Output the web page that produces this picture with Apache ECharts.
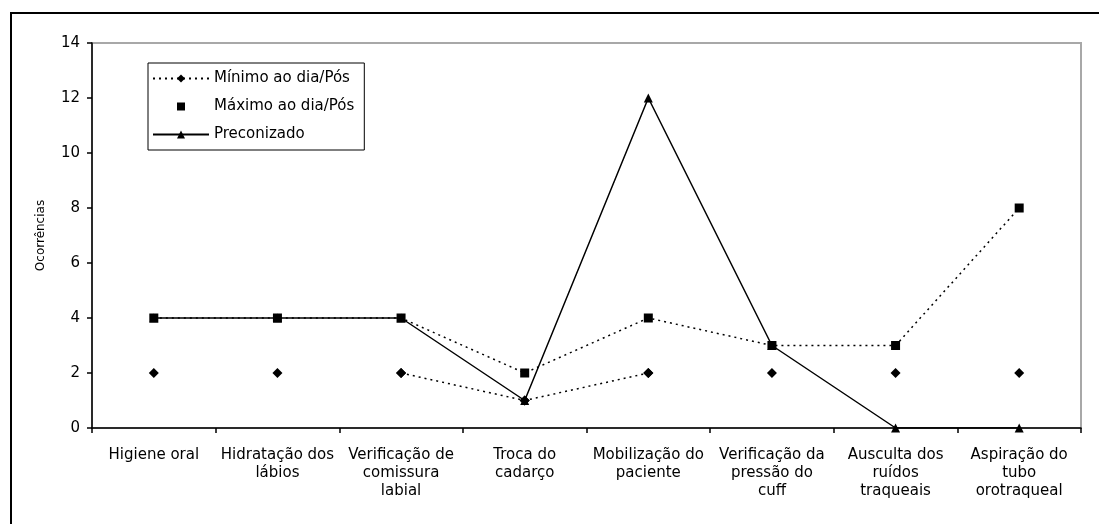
<!DOCTYPE html>
<html>
<head>
<meta charset="utf-8">
<script src="https://cdn.jsdelivr.net/npm/echarts@6/dist/echarts.min.js"></script>
<style>
html,body{margin:0;padding:0;background:#fff;}
#c{width:1099px;height:524px;}
</style>
</head>
<body>
<div id="c"></div>
<script>
var categories = [
  "Higiene oral",
  "Hidratação dos\nlábios",
  "Verificação de\ncomissura\nlabial",
  "Troca do\ncadarço",
  "Mobilização do\npaciente",
  "Verificação da\npressão do\ncuff",
  "Ausculta dos\nruídos\ntraqueais",
  "Aspiração do\ntubo\norotraqueal"
];
var minVals = [2, 2, 2, 1, 2, 2, 2, 2];
var maxVals = [4, 4, 4, 2, 4, 3, 3, 8];
var preconizado = [4, 4, 4, 1, 12, 3, 0, 0];
var yTicks = [0, 2, 4, 6, 8, 10, 12, 14];

// the dotted "Mínimo" line only joins the points from comissura to mobilização
var minLine = minVals.map(function (v, i) { return (i >= 2 && i <= 4) ? v : null; });

var FONT = "DejaVu Sans";
var chart = echarts.init(document.getElementById('c'));
chart.setOption({
  animation: false,
  backgroundColor: '#fff',
  textStyle: { fontFamily: FONT, color: '#000' },
  graphic: [{
    type: 'rect',
    shape: { x: 11, y: 13, width: 1200, height: 600 },
    style: { fill: 'none', stroke: '#000', lineWidth: 2 },
    silent: true
  }],
  grid: {
    left: 92, right: 18, top: 43, bottom: 96,
    show: true, borderColor: '#a8a8a8', borderWidth: 2, backgroundColor: 'transparent'
  },
  legend: {
    orient: 'vertical',
    left: 148, top: 63,
    backgroundColor: '#fff',
    borderColor: '#000', borderWidth: 1,
    padding: [8, 10, 8, 4],
    itemGap: 13,
    itemWidth: 56, itemHeight: 10,
    textStyle: { fontFamily: FONT, fontSize: 15, color: '#000' },
    data: ['Mínimo ao dia/Pós', 'Máximo ao dia/Pós', 'Preconizado']
  },
  xAxis: {
    type: 'category',
    data: categories,
    boundaryGap: true,
    axisLine: { lineStyle: { color: '#000', width: 1.5 } },
    axisTick: { show: true, inside: false, length: 5, lineStyle: { color: '#000', width: 1.5 } },
    axisLabel: {
      interval: 0, margin: 18, fontFamily: FONT, fontSize: 15, lineHeight: 18, color: '#000'
    },
    splitLine: { show: false }
  },
  yAxis: {
    type: 'value',
    min: yTicks[0], max: yTicks[yTicks.length - 1], interval: 2,
    name: 'Ocorrências',
    nameLocation: 'middle',
    nameGap: 45,
    nameRotate: 90,
    nameTextStyle: { fontFamily: FONT, fontSize: 12, color: '#000' },
    axisLine: { show: true, lineStyle: { color: '#000', width: 1.5 } },
    axisTick: { show: true, inside: false, length: 5, lineStyle: { color: '#000', width: 1.5 } },
    axisLabel: { margin: 12, fontFamily: FONT, fontSize: 15, color: '#000' },
    splitLine: { show: false }
  },
  series: [
    {
      name: 'max-line',
      type: 'line',
      data: maxVals,
      symbol: 'none',
      lineStyle: { color: '#000', width: 1.5, type: [2, 4] },
      silent: true, z: 2
    },
    {
      name: 'Mínimo ao dia/Pós',
      type: 'line',
      data: minLine,
      connectNulls: false,
      symbol: 'diamond', symbolSize: 10, showSymbol: true,
      itemStyle: { color: '#000', opacity: 1 },
      lineStyle: { color: '#000', width: 1.5, type: [2, 4] },
      z: 3
    },
    {
      name: 'min-points',
      type: 'scatter',
      data: minVals,
      symbol: 'diamond', symbolSize: 10,
      itemStyle: { color: '#000', opacity: 1 },
      silent: true, z: 4
    },
    {
      name: 'Preconizado',
      type: 'line',
      data: preconizado,
      symbol: 'triangle', symbolSize: 9, showSymbol: true,
      itemStyle: { color: '#000', opacity: 1 },
      lineStyle: { color: '#000', width: 1.5, type: 'solid' },
      z: 5
    },
    {
      name: 'Máximo ao dia/Pós',
      type: 'line',
      data: maxVals,
      symbol: 'rect', symbolSize: 9, showSymbol: true,
      itemStyle: { color: '#000', opacity: 1 },
      lineStyle: { opacity: 0, width: 0 },
      z: 6
    }
  ]
});
</script>
</body>
</html>
